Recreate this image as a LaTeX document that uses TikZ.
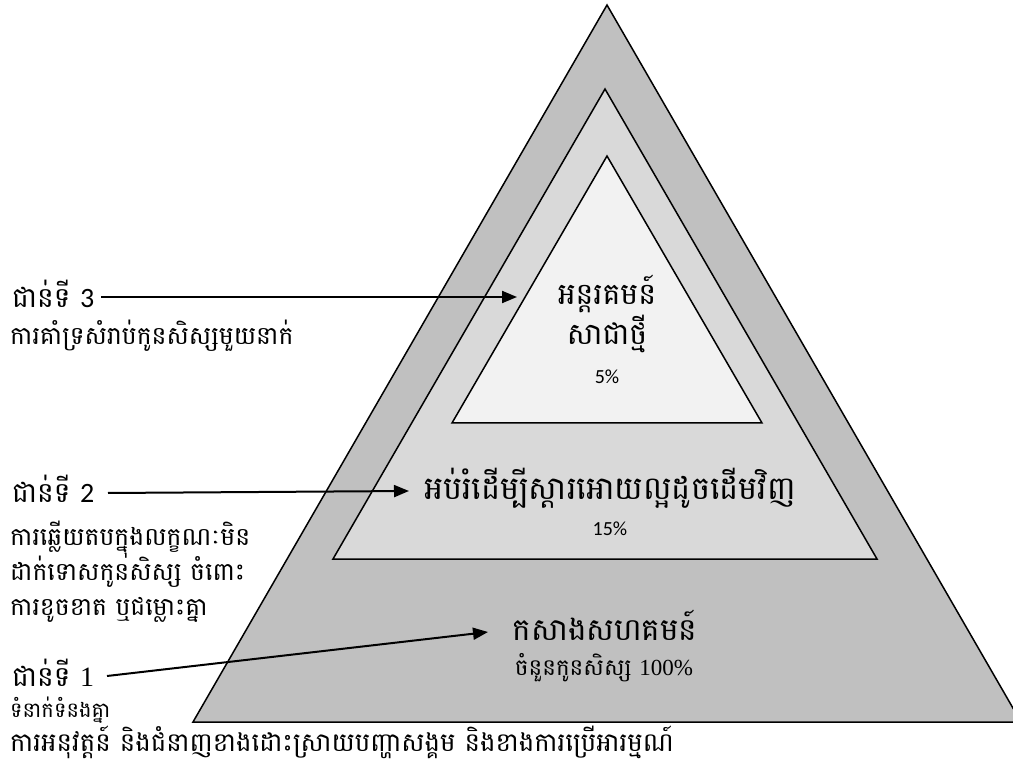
\documentclass[tikz,border=0pt]{standalone}
\usepackage{fontspec}
\usetikzlibrary{arrows.meta}
\newfontfamily\km[Script=Khmer]{Battambang}
\newfontfamily\lat{Carlito}
\newfontfamily\ser{Liberation Serif}
\definecolor{gOut}{HTML}{C0C0C0}
\definecolor{gMid}{HTML}{D9D9D9}
\definecolor{gIn}{HTML}{F2F2F2}
\tikzset{
  tri/.style={draw=black, line width=1.5pt, line join=miter},
  lbl/.style={anchor=base west, inner sep=0pt, font=\km\fontsize{28}{32}\selectfont},
  sub/.style={anchor=base west, inner sep=0pt, font=\km\fontsize{25}{28}\selectfont},
  ptxt/.style={anchor=base, inner sep=0pt, font=\km\fontsize{30}{34}\selectfont},
  pct/.style={anchor=base, inner sep=0pt, font=\lat\fontsize{20}{24}\selectfont},
  arr/.style={line width=2pt, -{Triangle[length=15pt,width=12pt]}},
}
\begin{document}
\begin{tikzpicture}[x=1pt,y=-1pt]
\useasboundingbox (0,0) rectangle (1013,767);
\begin{scope}
\clip (0,0) rectangle (1013,767);
\draw[tri, fill=gOut] (607,5) -- (1021,722) -- (193,722) -- cycle;
\draw[tri, fill=gMid] (605,89) -- (877,559) -- (333,559) -- cycle;
\draw[tri, fill=gIn] (607,156) -- (762,423) -- (452,423) -- cycle;
\end{scope}
% pyramid texts
\node[ptxt] (t3a) at (607,305) {អន្តរគមន៍};
\node[ptxt] (t3b) at (607,345) {សាជាថ្មី};
\node[pct] (t3c) at (607,384) {5\%};
\node[ptxt, font=\km\fontsize{32}{36}\selectfont] (t2a) at (610,500) {អប់រំដើម្បីស្តារអោយល្អដូចដើមវិញ};
\node[pct] (t2b) at (610,535) {15\%};
\node[ptxt, font=\km\fontsize{31}{36}\selectfont] (t1a) at (605,640) {កសាងសហគមន៍};
\node[anchor=base, inner sep=0pt, font=\km\fontsize{23}{26}\selectfont] (t1b) at (604,675) {ចំនួនកូនសិស្ស {\ser 100\%}};
% left labels
\node[lbl] (l3) at (12,308) {ជាន់ទី {\lat 3}};
\node[sub] (s3) at (10,345) {ការគាំទ្រសំរាប់កូនសិស្សមួយនាក់};
\node[lbl] (l2) at (12,502) {ជាន់ទី {\lat 2}};
\node[sub] (s2a) at (10,545) {ការឆ្លើយតបក្នុងលក្ខណៈមិន};
\node[sub] (s2b) at (10,580) {ដាក់ទោសកូនសិស្ស ចំពោះ};
\node[sub] (s2c) at (10,615) {ការខូចខាត ឬជម្លោះគ្នា};
\node[lbl] (l1) at (12,686) {ជាន់ទី {\ser 1}};
\node[sub, font=\km\fontsize{21}{24}\selectfont] (s1a) at (10,717) {ទំនាក់ទំនងគ្នា};
\node[sub, font=\km\fontsize{26}{30}\selectfont] (s1b) at (10,751) {ការអនុវត្តន៍ និងជំនាញខាងដោះស្រាយបញ្ហាសង្គម និងខាងការប្រើអារម្មណ៍};
% connector ends
\coordinate (b3) at (101,297);
\coordinate (b2) at (108,493);
\coordinate (b1) at (107,676);
\coordinate (e3) at (517,297);
\coordinate (e2) at (409,491);
\coordinate (e1) at (488,632);
\draw[arr] (b3) -- (e3);
\draw[arr] (b2) -- (e2);
\draw[arr] (b1) -- (e1);
\end{tikzpicture}
\end{document}
